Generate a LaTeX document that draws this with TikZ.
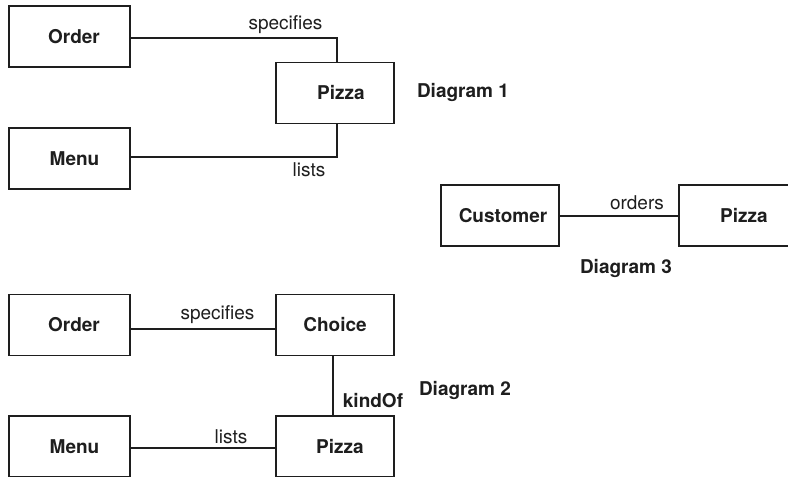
\documentclass[tikz,border=0pt]{standalone}
\usepackage{fontspec}
\setmainfont{TeX Gyre Heros}
\definecolor{ink}{HTML}{1E1E1E}
\begin{document}
\begin{tikzpicture}[x=1pt,y=-1pt,
  box/.style={draw=ink, line width=1.6pt, minimum width=118pt, minimum height=61pt,
    inner sep=0pt, text=ink, font=\bfseries\fontsize{19}{22}\selectfont},
  wide/.style={box, minimum width=121pt},
  conn/.style={draw=ink, line width=1.6pt},
  lbl/.style={anchor=base, inner sep=0pt, text=ink, font=\fontsize{19}{22}\selectfont},
  ttl/.style={lbl, font=\bfseries\fontsize{19}{22}\selectfont}]
\useasboundingbox (0,0) rectangle (788,477);
\clip (0,0) rectangle (788,477);
% Diagram 1
\node[wide] (o1) at (69.5,36.5) {\hspace*{9pt}Order};
\node[box]  (p1) at (335,93) {\hspace*{12pt}Pizza};
\node[wide] (m1) at (69.5,158.5) {\hspace*{10pt}Menu};
\draw[conn] ([yshift=-1.5pt]o1.east) -| ([xshift=2pt]p1.north);
\draw[conn] ([yshift=1.5pt]m1.east) -| ([xshift=2pt]p1.south);
\node[lbl] (l1) at (285.5,29.5) {specifies};
\node[lbl] (l2) at (309,176) {lists};
\node[ttl] (d1) at (463,97) {Diagram 1};
% Diagram 3
\node[box] (c3) at (500,215.5) {\hspace*{6pt}Customer};
\node[box] (p3) at (738,215.5) {\hspace*{12pt}Pizza};
\draw[conn] ([yshift=-0.5pt]c3.east) -- ([yshift=-0.5pt]p3.west);
\node[lbl] (l3) at (637,209) {orders};
\node[ttl] (d3) at (626,273) {Diagram 3};
% Diagram 2
\node[wide] (o2) at (69.5,325) {\hspace*{9pt}Order};
\node[box]  (c2) at (335,325) {Choice};
\node[wide] (m2) at (69.5,446.5) {\hspace*{10pt}Menu};
\node[box]  (p2) at (335,446.5) {\hspace*{10pt}Pizza};
\draw[conn] ([yshift=-4pt]o2.east) -- ([yshift=-4pt]c2.west);
\draw[conn] ([xshift=-2pt]c2.south) -- ([xshift=-2pt]p2.north);
\draw[conn] ([yshift=-1.5pt]m2.east) -- ([yshift=-1.5pt]p2.west);
\node[lbl] (l4) at (217.5,319) {specifies};
\node[ttl] (l5) at (373,407) {kindOf};
\node[ttl] (d2) at (465,395) {Diagram 2};
\node[lbl] (l6) at (231,443) {lists};
\end{tikzpicture}
\end{document}
